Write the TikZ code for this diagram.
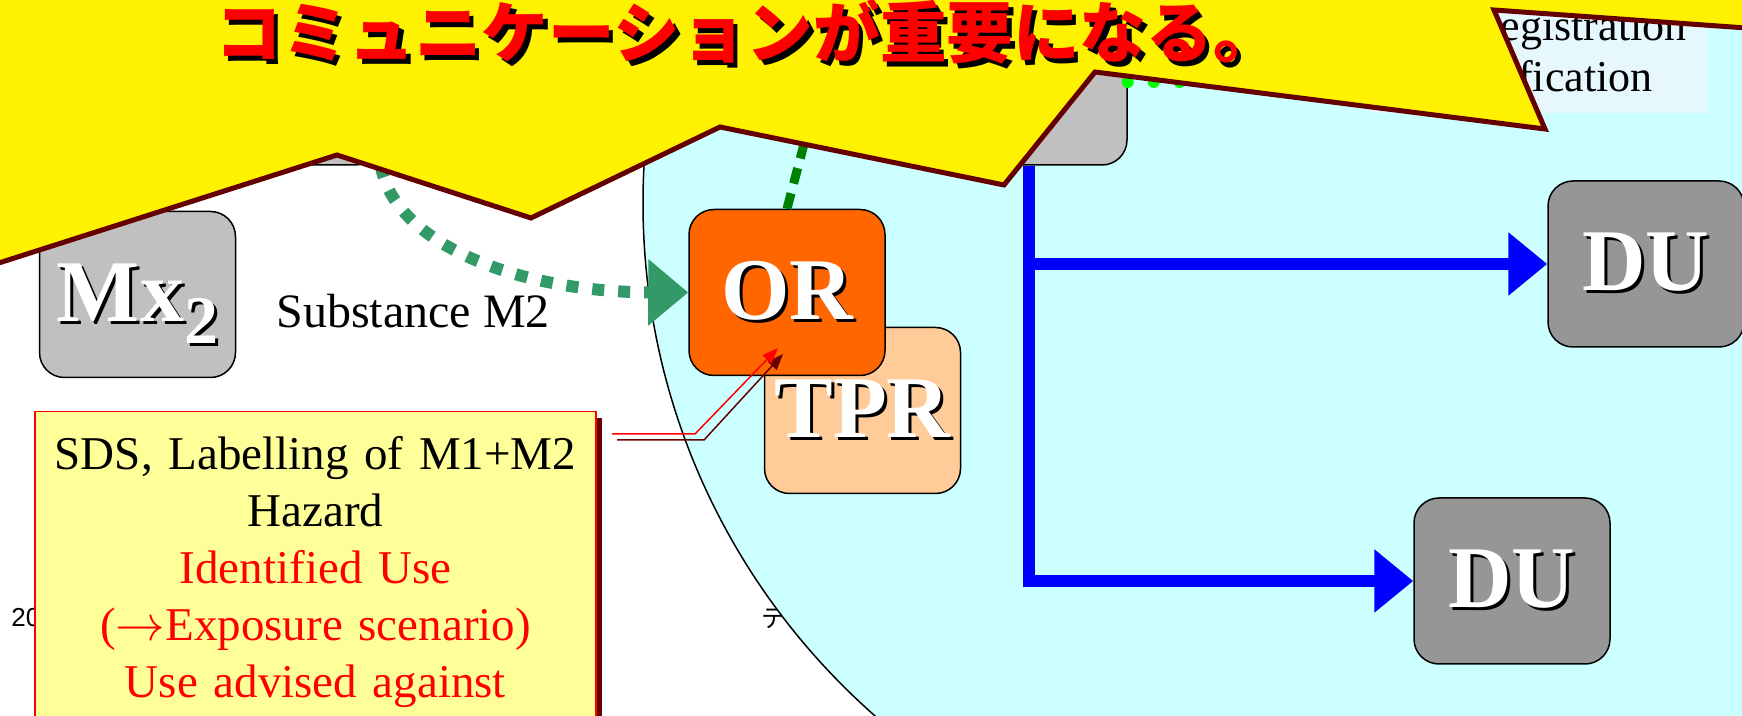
\documentclass[tikz,border=0pt]{standalone}
\usepackage{fontspec}
\setmainfont{Liberation Serif}
\newfontfamily\jpfont{Noto Sans CJK JP}
\newfontfamily\footfont{Liberation Sans}
\usepackage{xcolor}
\usepackage{tikz}
\usetikzlibrary{arrows.meta, positioning, shadows}

\definecolor{boxgrey}{HTML}{C0C0C0}
\definecolor{dugrey}{HTML}{969696}
\definecolor{orfill}{HTML}{FF6600}
\definecolor{tprfill}{HTML}{FFCC99}
\definecolor{poolcyan}{HTML}{CCFFFF}
\definecolor{notefill}{HTML}{FFFF99}
\definecolor{edgered}{HTML}{660000}
\definecolor{flowteal}{HTML}{339966}
\definecolor{linkgreen}{HTML}{00FF00}
\definecolor{darkflow}{HTML}{008000}

\newcommand{\shadowed}[3][1.5pt]{\rlap{\kern#1\raisebox{-#1}{\color{black}#3}}\textcolor{#2}{#3}}

\begin{document}
\begin{tikzpicture}[x=0.5pt, y=-0.5pt,
    box/.style={draw, line width=0.75pt, rounded corners=12.5pt, minimum width=98pt, minimum height=83pt, inner sep=0pt, font=\fontsize{44pt}{48pt}\selectfont\bfseries},
    plain/.style={inner sep=0pt, font=\fontsize{24pt}{28.5pt}\selectfont},
    tealline/.style={flowteal, line width=6pt, dash pattern=on 6pt off 7pt, -{Triangle[length=20pt,width=32pt]}},
    darkline/.style={darkflow, line width=4.5pt, dash pattern=on 8pt off 5pt},
    limeline/.style={linkgreen, line width=6pt, line cap=round, dash pattern=on 0pt off 13pt},
    blueline/.style={blue, line width=6.2pt, -{Triangle[length=19.5pt,width=30.5pt]}},
    callline/.style={line width=0.75pt, -{Triangle[length=8pt,width=6pt]}}]

    \clip (0,0) rectangle (1742,716);
    \fill[white] (0,0) rectangle (1742,716);

    \node[anchor=base west, inner sep=0pt, font=\footfont\fontsize{13pt}{15pt}\selectfont] (date) at (11,627) {20};
    \node[anchor=base west, inner sep=0pt, font=\jpfont\fontsize{12.5pt}{15pt}\selectfont] (foot) at (761,628) {テ};

    \filldraw[fill=poolcyan, draw=black, line width=0.75pt] (1326,203) circle[radius=341.5pt];

    \node[fill=cyan!10, minimum width=168.5pt, minimum height=56.5pt, inner sep=0pt] (reg) at (1538.5,56.5) {};
    \node[plain, font=\fontsize{22pt}{26pt}\selectfont, anchor=base east] (regtxt) at (1687,41) {Registration};
    \node[plain, font=\fontsize{22pt}{26pt}\selectfont, anchor=base east] (nottxt) at (1653,92) {Notification};

    \node[box, fill=boxgrey] (m1) at (282,82) {};
    \node[box, fill=boxgrey] (src) at (1029,82) {};
    \node[box, fill=boxgrey] (mx2) at (137.5,294.5) {\shadowed{white}{Mx\smash{\raisebox{-11pt}{\fontsize{34pt}{36pt}\selectfont 2}}}};
    \node[plain, anchor=base west] (subst) at (276,328) {Substance M2};
    \node[box, fill=tprfill] (tpr) at (862.5,410.5) {\shadowed{white}{TPR}};
    \node[box, fill=orfill] (or) at (787,292.5) {\shadowed{white}{OR}};
    \foreach \nm/\x/\y in {du1/1646/264, du2/1512/581}
        \node[box, fill=dugrey] (\nm) at (\x,\y) {\shadowed{white}{DU}};

    \coordinate (orup) at (834,30);
    \draw[tealline] (m1.south east) .. controls (395,245) and (520,292) .. (or.west);
    \draw[darkline] (or.north) -- (orup);
    \draw[limeline] (src.east) -- (src.east -| reg.west);

    \draw[blueline] (src.south) |- (du2.west);
    \draw[blueline] (src.south |- du1.west) -- (du1.west);

    \node[plain, font=\fontsize{23.5pt}{28.5pt}\selectfont, anchor=north, draw=red, line width=0.75pt, fill=notefill, align=center,
          text width=280.5pt, inner xsep=0pt, inner ysep=12.5pt,
          drop shadow={shadow xshift=3pt, shadow yshift=-3pt, fill=edgered, opacity=1}] (sds) at (315.5,411)
        {SDS, Labelling of M1+M2\\Hazard\\\textcolor{red}{Identified Use}\\\textcolor{red}{(\ensuremath{\rightarrow}Exposure scenario)}\\\textcolor{red}{Use advised against}};

    \coordinate (calla) at (612,434);
    \coordinate (callb) at (778,348);
    \draw[callline, edgered] ([shift={(5,6)}]calla) -- ++(87,0) -- ([shift={(5,6)}]callb);
    \draw[callline, red] (calla) -- ++(83,0) -- (callb);

    \draw[fill=yellow, draw=edgered, line width=2.5pt] (-20,269) -- (337,155) -- (531,218) -- (720,127) -- (1004,185) -- (1095,72) -- (1545,129) -- (1494,10) -- (1760,29) -- (1760,-20) -- (-20,-20) -- cycle;
    \node[anchor=base west, inner sep=0pt, font=\jpfont\bfseries\fontsize{33.3pt}{36pt}\selectfont] (title) at (215,58) {\shadowed[2.2pt]{red}{コミュニケーションが重要になる。}};
\end{tikzpicture}
\end{document}
